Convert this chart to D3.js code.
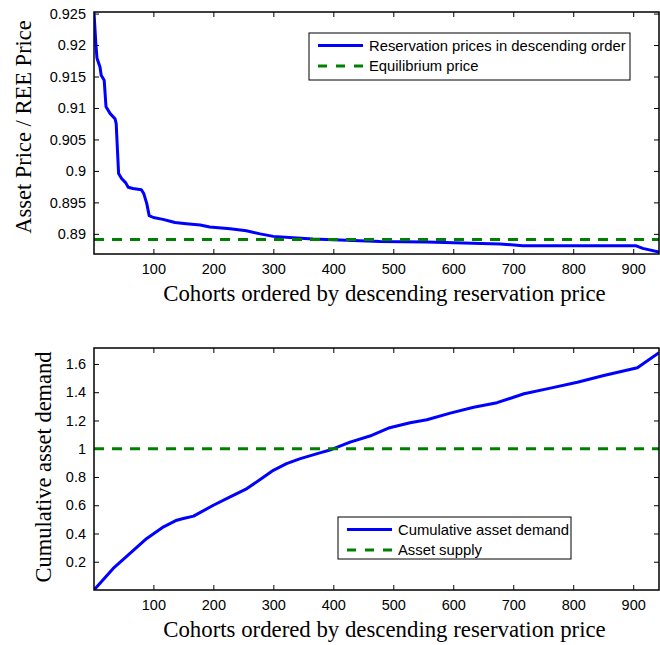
<!DOCTYPE html>
<html><head><meta charset="utf-8">
<script src="https://cdn.jsdelivr.net/npm/d3@7/dist/d3.min.js"></script>
<style>
body{margin:0;background:#fff;}
svg{display:block;}
.tick text{font-family:"Liberation Sans",Arial,sans-serif;font-size:14.5px;fill:#000;}
</style></head>
<body>
<svg id="chart" width="660" height="645"></svg>
<script>
// ---- data ----
const priceX = [1,4,6,11,13,18,21,28,36,38,42,47,54,58,66,80,84,89,93,100,116,128,136,155,178,194,228,255,278,300,333,366,422,478,555,678,716,905,916,943];
const priceY = [0.9252,0.9203,0.9179,0.9165,0.9152,0.9144,0.9102,0.9091,0.9083,0.9075,0.8996,0.8988,0.8981,0.8974,0.8972,0.8970,0.8964,0.8948,0.8929,0.8926,0.8923,0.8920,0.8918,0.8916,0.8914,0.8911,0.8908,0.8905,0.8900,0.8896,0.8894,0.8892,0.8890,0.8888,0.8887,0.8884,0.8881,0.8881,0.8877,0.8871];
const equilibriumPrice = 0.8891;
const demandX = [1,33,61,89,117,139,150,167,200,228,256,278,300,322,345,379,393,428,461,494,528,556,595,634,673,718,762,807,851,907,943];
const demandY = [0,0.153,0.259,0.365,0.447,0.494,0.506,0.523,0.600,0.659,0.718,0.782,0.847,0.895,0.930,0.972,0.989,1.047,1.090,1.149,1.184,1.205,1.252,1.294,1.326,1.389,1.429,1.471,1.518,1.573,1.680];
const assetSupply = 1;
const xTicks = [100,200,300,400,500,600,700,800,900];
const priceTicks = [0.89,0.895,0.9,0.905,0.91,0.915,0.92,0.925];
const demandTicks = [0.2,0.4,0.6,0.8,1,1.2,1.4,1.6];
const xLabel = "Cohorts ordered by descending reservation price";
const priceLabel = "Asset Price / REE Price";
const demandLabel = "Cumulative asset demand";
const legend1 = ["Reservation prices in descending order","Equilibrium price"];
const legend2 = ["Cumulative asset demand","Asset supply"];

const svg = d3.select("#chart");
const BLUE = "#0000ff", GREEN = "#008000";
const serif = '"Liberation Serif","Times New Roman",serif';

function panel(o){
  const g = svg.append("g");
  const x = d3.scaleLinear().domain([1,943]).range([o.left,o.right]);
  const y = d3.scaleLinear().domain(o.yDomain).range([o.bottom,o.top]);
  const tl = 5;
  const cid = "clip"+o.id;
  svg.append("clipPath").attr("id",cid).append("rect")
    .attr("x",o.left).attr("y",o.top).attr("width",o.right-o.left).attr("height",o.bottom-o.top);
  const ax = (gen,tr) => g.append("g").attr("transform",tr).call(gen)
     .call(s=>s.select(".domain").remove())
     .call(s=>s.selectAll("line").attr("stroke","#000").attr("stroke-width",1));
  ax(d3.axisBottom(x).tickValues(xTicks).tickSize(-tl).tickPadding(10).tickFormat(d3.format("d")), `translate(0,${o.bottom})`);
  ax(d3.axisTop(x).tickValues(xTicks).tickSize(-tl).tickFormat(""), `translate(0,${o.top})`);
  ax(d3.axisLeft(y).tickValues(o.yTicks).tickSize(-tl).tickPadding(8).tickFormat(d=>String(+d.toFixed(3))), `translate(${o.left},0)`);
  ax(d3.axisRight(y).tickValues(o.yTicks).tickSize(-tl).tickFormat(""), `translate(${o.right},0)`);
  const lines = g.append("g").attr("clip-path",`url(#${cid})`);
  const line = d3.line().x(d=>x(d[0])).y(d=>y(d[1]));
  lines.append("path").datum(d3.zip(o.xs,o.ys)).attr("d",line)
    .attr("fill","none").attr("stroke",BLUE).attr("stroke-width",3).attr("stroke-linejoin","round");
  lines.append("line").attr("x1",x(1)).attr("x2",x(943)).attr("y1",y(o.ref)).attr("y2",y(o.ref))
    .attr("stroke",GREEN).attr("stroke-width",3).attr("stroke-dasharray","10,8");
  g.append("rect").attr("x",o.left).attr("y",o.top).attr("width",o.right-o.left).attr("height",o.bottom-o.top)
    .attr("fill","none").attr("stroke","#000").attr("stroke-width",1.5);
  g.append("text").attr("x",384.5).attr("y",o.xLabelY).attr("text-anchor","middle")
    .style("font-family",serif).style("font-size","22.8px").text(xLabel);
  g.append("text").attr("transform",`translate(${o.yLabelX},${o.yLabelY}) rotate(-90)`).attr("dy","0.35em")
    .attr("text-anchor","middle").style("font-family",serif).style("font-size",o.yLabelSize+"px").text(o.yLabel);
  const L = o.legend;
  const lg = g.append("g");
  lg.append("rect").attr("x",L.x).attr("y",L.y).attr("width",L.w).attr("height",L.h)
    .attr("fill","#fff").attr("stroke","#000").attr("stroke-width",1);
  o.legendText.forEach((t,i)=>{
    const yy = L.y + 12.5 + i*20.5;
    lg.append("line").attr("x1",L.x+9).attr("x2",L.x+54).attr("y1",yy).attr("y2",yy)
      .attr("stroke", i===0?BLUE:GREEN).attr("stroke-width",3)
      .attr("stroke-dasharray", i===0?null:"9,9");
    lg.append("text").attr("x",L.x+60).attr("y",yy).attr("dy","0.36em")
      .style("font-family",'"Liberation Sans",Arial,sans-serif').style("font-size","14.8px").text(t);
  });
}

panel({id:1,left:94,right:659,top:12,bottom:254,yDomain:[0.8868,0.92525],yTicks:priceTicks,
  xs:priceX,ys:priceY,ref:equilibriumPrice,xLabelY:301,yLabel:priceLabel,yLabelX:23,yLabelY:127,yLabelSize:22.5,
  legend:{x:309,y:33,w:321,h:47},legendText:legend1});
panel({id:2,left:94,right:659,top:348,bottom:590,yDomain:[0,1.713],yTicks:demandTicks,
  xs:demandX,ys:demandY,ref:assetSupply,xLabelY:637,yLabel:demandLabel,yLabelX:43,yLabelY:467,yLabelSize:22.5,
  legend:{x:338,y:517,w:233,h:42},legendText:legend2});
</script>
</body></html>
